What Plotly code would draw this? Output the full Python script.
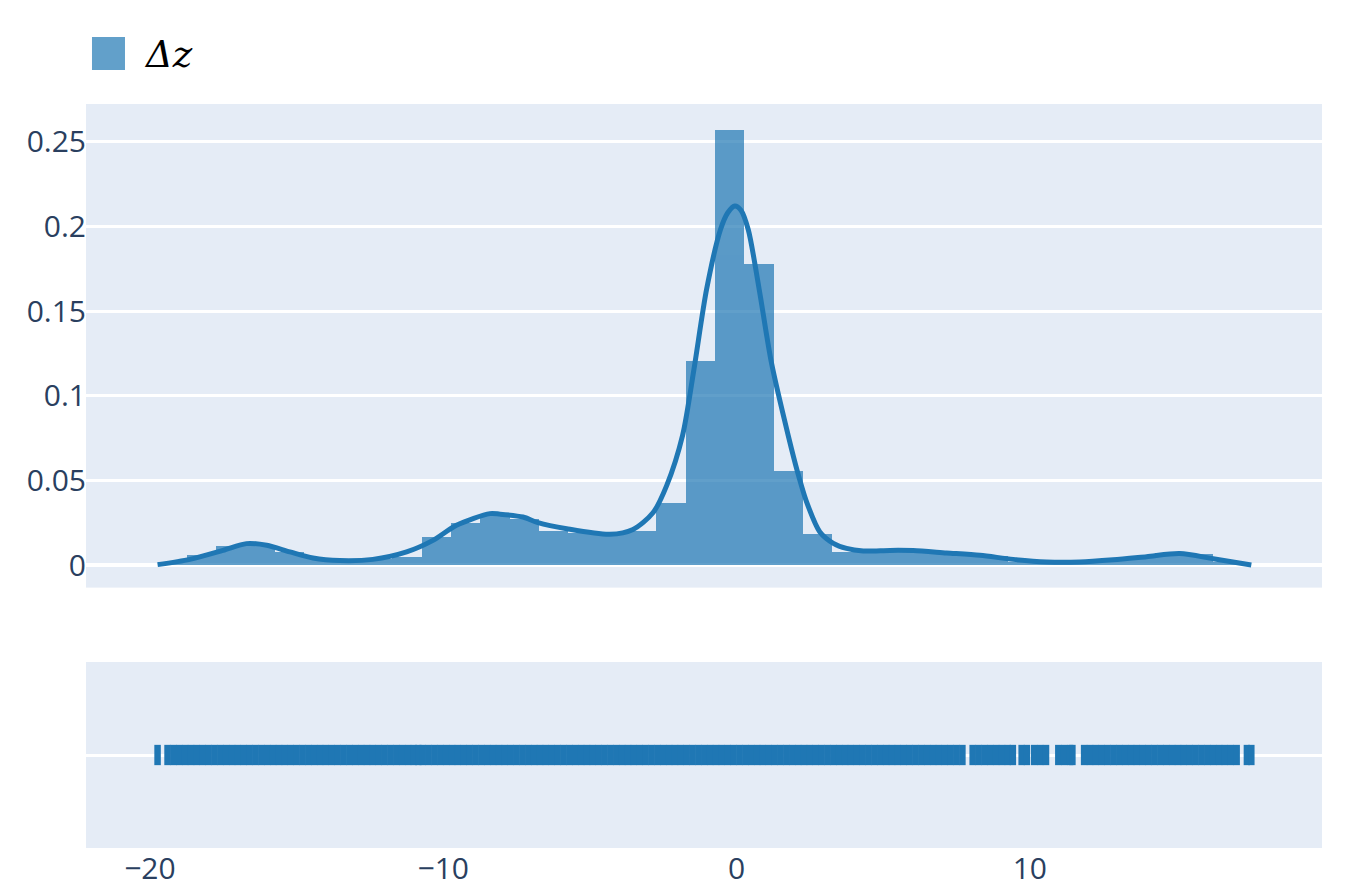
import plotly.graph_objects as go

# ---------------- data ----------------
series_label = "Δz"

# histogram (probability density), bins of width 1 starting at the data minimum
bin_start = -19.74
bin_size = 1.0
hist_density = [
    0.0020, 0.0060, 0.0114, 0.0120, 0.0080, 0.0043, 0.0030, 0.0035, 0.0050, 0.0167,
    0.0250, 0.0300, 0.0275, 0.0200, 0.0190, 0.0185, 0.0200, 0.0365, 0.1205, 0.2570,
    0.1775, 0.0555, 0.0187, 0.0078, 0.0080, 0.0098, 0.0082, 0.0069, 0.0055, 0.0020,
    0.0014, 0.0020, 0.0030, 0.0043, 0.0072, 0.0069, 0.0020,
]

# kernel density curve
kde_x = [-19.74, -18.64, -17.51, -16.71, -16.02, -15.23, -14.44, -13.53, -12.40, -11.25,
         -10.35, -9.55, -8.41, -8.07, -7.28, -6.77, -5.79, -4.32, -3.53, -2.85,
         -2.38, -1.84, -1.45, -1.02, -0.55, -0.30, -0.06, 0.15, 0.40, 0.77,
         1.19, 1.76, 2.08, 2.39, 2.84, 3.30, 3.75, 4.32, 5.23, 6.02,
         7.16, 8.30, 9.43, 10.57, 11.70, 12.84, 13.98, 15.11, 16.25, 17.55]
kde_y = [0.0004, 0.0035, 0.0088, 0.0128, 0.0118, 0.0079, 0.0043, 0.0028, 0.0035, 0.0079,
         0.0147, 0.0236, 0.0305, 0.0302, 0.0285, 0.0252, 0.0216, 0.0183, 0.0212, 0.0310,
         0.0472, 0.0767, 0.1160, 0.1630, 0.1980, 0.2080, 0.2120, 0.2095, 0.1980, 0.1630,
         0.1195, 0.0767, 0.0550, 0.0373, 0.0197, 0.0130, 0.0100, 0.0085, 0.0088, 0.0087,
         0.0073, 0.0059, 0.0035, 0.0020, 0.0020, 0.0033, 0.0051, 0.0069, 0.0039, 0.0002]

# rug positions
rug_x = [
    -19.74, -19.40,
    -19.2, -19.0, -18.8, -18.6, -18.4, -18.2, -18.0, -17.8, -17.6, -17.4,
    -17.2, -17.0, -16.8, -16.6, -16.4, -16.2, -16.0, -15.8, -15.6, -15.4,
    -15.2, -15.0, -14.8, -14.6, -14.4, -14.2, -14.0, -13.8, -13.6, -13.4,
    -13.2, -13.0, -12.8, -12.6, -12.4, -12.2, -12.0, -11.8, -11.6, -11.4,
    -11.2, -11.0, -10.85, -10.7, -10.5, -10.3, -10.1, -9.9, -9.7, -9.5, -9.3,
    -9.1, -8.9, -8.7, -8.5, -8.3, -8.1, -7.9, -7.7, -7.5, -7.3,
    -7.1, -6.9, -6.7, -6.5, -6.3, -6.1, -5.9, -5.7, -5.5, -5.3,
    -5.1, -4.9, -4.7, -4.5, -4.3, -4.1, -3.9, -3.7, -3.5, -3.3,
    -3.1, -2.9, -2.7, -2.5, -2.3, -2.1, -1.9, -1.7, -1.5, -1.3,
    -1.1, -0.9, -0.7, -0.5, -0.3, -0.1, 0.1, 0.3, 0.5, 0.7,
    0.9, 1.1, 1.3, 1.5, 1.7, 1.9, 2.1, 2.3, 2.5, 2.7,
    2.9, 3.1, 3.3, 3.5, 3.7, 3.9, 4.1, 4.3, 4.5, 4.7,
    4.9, 5.1, 5.3, 5.5, 5.7, 5.9, 6.1, 6.3, 6.5, 6.7,
    6.9, 7.1, 7.3, 7.5, 7.7,
    8.05, 8.25, 8.45, 8.65, 8.85, 9.05, 9.25, 9.42,
    9.72, 9.90,
    10.15, 10.35, 10.55,
    10.97, 11.17, 11.37, 11.45,
    11.85, 12.05, 12.25, 12.45, 12.65, 12.85, 13.05, 13.25, 13.45, 13.65,
    13.85, 14.05, 14.25, 14.45, 14.65, 14.85, 15.05, 15.25, 15.45, 15.65,
    15.85, 16.05, 16.25, 16.45, 16.65, 16.85, 17.05,
    17.40, 17.55,
]

# ---------------- figure ----------------
blue = "#1f77b4"
bin_left = [bin_start + i * bin_size for i in range(len(hist_density))]

fig = go.Figure()
fig.add_trace(go.Bar(
    x=bin_left, y=hist_density, offset=0, width=bin_size,
    marker=dict(color=blue, line=dict(width=0)), opacity=0.7,
    name=series_label, xaxis="x", yaxis="y", showlegend=False,
))
fig.add_trace(go.Scatter(
    x=kde_x, y=kde_y, mode="lines", line=dict(color=blue, width=5, shape="spline", smoothing=0.8),
    name=series_label, xaxis="x", yaxis="y", showlegend=False,
))
fig.add_trace(go.Scatter(
    x=rug_x, y=[series_label] * len(rug_x), mode="markers",
    marker=dict(color=blue, symbol="line-ns-open", size=14.5, line=dict(width=6.5, color=blue)),
    name=series_label, xaxis="x", yaxis="y2", showlegend=False,
))

# legend-like key (large square + label), placed as in the reference
fig.add_shape(type="rect", xref="paper", yref="paper",
              x0=0.00485, x1=0.03155, y0=1.0457, y1=1.0901,
              fillcolor=blue, opacity=0.7, line=dict(width=0))
fig.add_annotation(xref="paper", yref="paper", x=0.0455, y=1.0672,
                   xanchor="left", yanchor="middle", showarrow=False,
                   text="<i>" + series_label + "</i>",
                   font=dict(family="DejaVu Serif", size=37, color="black"))

tick_font = dict(family="Open Sans", size=30, color="#2a3f5f")
fig.update_layout(
    width=1346, height=896,
    margin=dict(l=86, r=24, t=104, b=48),
    paper_bgcolor="white", plot_bgcolor="#E5ECF6",
    showlegend=False,
    bargap=0,
    xaxis=dict(domain=[0, 1], anchor="y2", range=[-22.18, 19.96], showgrid=False,
               zeroline=False, tickvals=[-20, -10, 0, 10], tickfont=tick_font, ticks="",
               automargin=False),
    yaxis=dict(domain=[0.35, 1], anchor="free", position=0, range=[-0.01315, 0.2722],
               dtick=0.05, gridcolor="white", gridwidth=2.5, zeroline=True,
               zerolinecolor="white", zerolinewidth=4, tickfont=tick_font, ticks="",
               automargin=False),
    yaxis2=dict(domain=[0, 0.25], anchor="x", type="category", showticklabels=False,
                gridcolor="white", gridwidth=2.5, ticks="", automargin=False),
)

fig.write_html("out.html", config={"displayModeBar": False},
               post_script="document.body.style.margin='0';")
